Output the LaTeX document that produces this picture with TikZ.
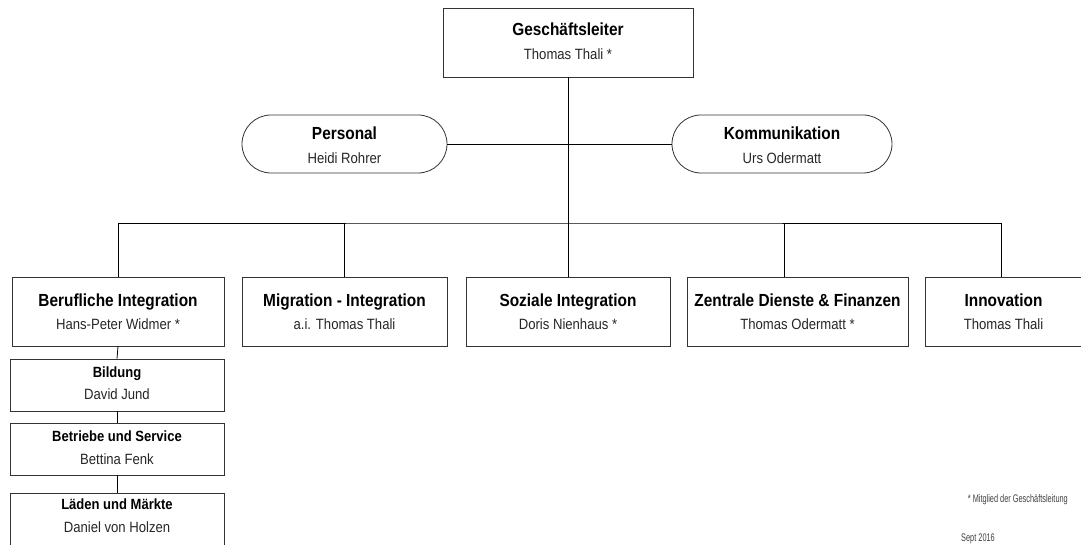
\documentclass[tikz,border=0pt]{standalone}
\usepackage{fontspec}
\setmainfont{Liberation Sans}[FakeStretch=0.88]
\newfontfamily\thinfont{Liberation Sans}[FakeStretch=0.67]
\usetikzlibrary{shapes.misc}
\begin{document}
\begin{tikzpicture}[x=1pt,y=-1pt,
  box/.style={draw=black!80, line width=0.8pt, inner sep=0pt, rectangle},
  pill/.style={draw=black!80, line width=0.8pt, inner sep=0pt, rounded rectangle},
  ln/.style={draw=black, line width=0.8pt},
  ttl/.style={anchor=base, inner sep=0pt, font=\fontsize{17.5}{20}\selectfont\bfseries},
  sttl/.style={anchor=base, inner sep=0pt, font=\fontsize{14.8}{17}\selectfont\bfseries},
  nm/.style={anchor=base, inner sep=0pt, text=black!85, font=\fontsize{14.9}{17}\selectfont},
  note/.style={inner sep=0pt, text=black!75, font=\thinfont\fontsize{11}{13}\selectfont}]
\useasboundingbox (0,0) rectangle (1081,545);

% top
\node[box, minimum width=250pt, minimum height=69pt] (gl) at (568,42.5) {};
\node[ttl] (glt) at (568,36) {Geschäftsleiter};
\node[nm] (gln) at (568,60) {Thomas Thali *};

% staff
\node[pill, minimum width=205pt, minimum height=58pt] (per) at (344.5,144) {};
\node[ttl] (pert) at (344.5,140) {Personal};
\node[nm] (pern) at (344.5,164) {Heidi Rohrer};
\node[pill, minimum width=220pt, minimum height=58pt] (kom) at (782,144) {};
\node[ttl] (komt) at (782,140) {Kommunikation};
\node[nm] (komn) at (782,164) {Urs Odermatt};

% departments
\node[box, minimum width=212pt, minimum height=69pt] (ber) at (118,311.5) {};
\node[ttl] (bert) at (118,306) {Berufliche Integration};
\node[nm] (bern) at (118,329) {Hans-Peter Widmer *};

\node[box, minimum width=205pt, minimum height=69pt] (mig) at (344.5,311.5) {};
\node[ttl] (migt) at (344.5,306) {Migration - Integration};
\node[nm] (mign) at (344.5,329) {a.i. Thomas Thali};

\node[box, minimum width=204pt, minimum height=69pt] (soz) at (568,311.5) {};
\node[ttl] (sozt) at (568,306) {Soziale Integration};
\node[nm] (sozn) at (568,329) {Doris Nienhaus *};

\node[box, minimum width=221pt, minimum height=69pt] (zen) at (797.5,311.5) {};
\node[ttl] (zent) at (797.5,306) {Zentrale Dienste \& Finanzen};
\node[nm] (zenn) at (797.5,329) {Thomas Odermatt *};

\node[box, minimum width=157pt, minimum height=69pt] (inn) at (1003.5,311.5) {};
\node[ttl] (innt) at (1003.5,306) {Innovation};
\node[nm] (innn) at (1003.5,329) {Thomas Thali};

% sub units
\node[box, minimum width=214pt, minimum height=52pt] (bil) at (117,385) {};
\node[sttl] (bilt) at (117,377) {Bildung};
\node[nm] (biln) at (117,399.5) {David Jund};

\node[box, minimum width=214pt, minimum height=52pt] (bet) at (117,449) {};
\node[sttl] (bett) at (117,441.5) {Betriebe und Service};
\node[nm] (betn) at (117,464) {Bettina Fenk};

\node[box, minimum width=214pt, minimum height=60pt] (lae) at (117,523) {};
\node[sttl] (laet) at (117,509.5) {Läden und Märkte};
\node[nm] (laen) at (117,532.5) {Daniel von Holzen};

% connectors
\coordinate (bus) at (568,223);
\draw[ln] (gl.south) -- (soz.north);
\draw[ln] (per.east) -- (kom.west);
\draw[ln] (ber.north) |- (bus) -| ([xshift=-2.5pt]inn.north);
\draw[ln] (mig.north) -- (mig.north |- bus);
\draw[ln] ([xshift=-13.5pt]zen.north) -- ([xshift=-13.5pt]zen.north |- bus);
\draw[ln] (ber.south) -- (bil.north);
\draw[ln] (bil.south) -- (bet.north);
\draw[ln] (bet.south) -- (lae.north);

% notes
\node[note, anchor=base east] (fn) at (1068,502) {* Mitglied der Geschäftsleitung};
\node[note, anchor=base west] (dt) at (961,541.5) {Sept 2016};
\end{tikzpicture}
\end{document}
